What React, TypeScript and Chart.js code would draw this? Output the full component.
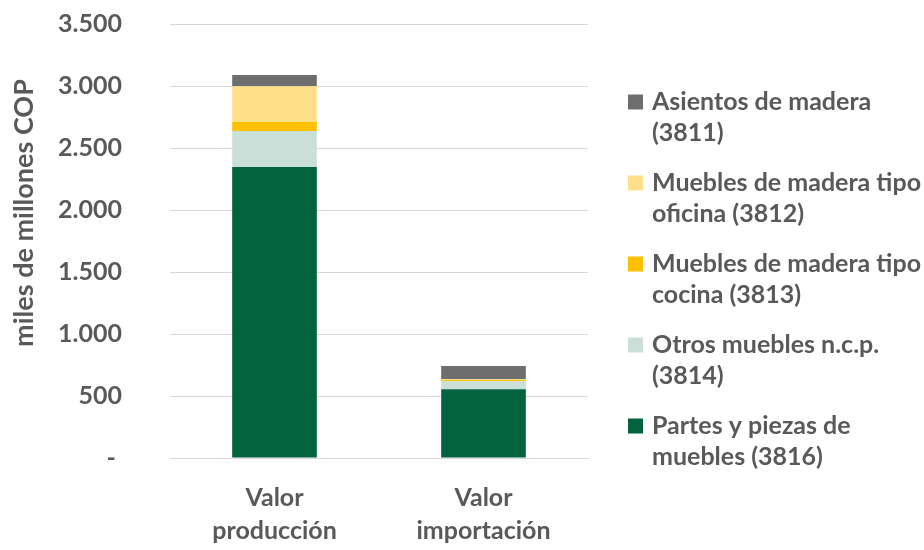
import React, { useEffect, useRef } from "react";
import { Chart, registerables } from "chart.js";

Chart.register(...registerables);

const categories: string[][] = [["Valor", "producción"], ["Valor", "importación"]];
const partes3816 = [2347, 554];
const otros3814 = [290, 65];
const cocina3813 = [73, 10];
const oficina3812 = [288, 8];
const asientos3811 = [91, 105];

const seriesLabels = [
  ["Partes y piezas de", "muebles (3816)"],
  ["Otros muebles n.c.p.", "(3814)"],
  ["Muebles de madera tipo", "cocina (3813)"],
  ["Muebles de madera tipo", "oficina (3812)"],
  ["Asientos de madera", "(3811)"],
];
const colors = ["#03633f", "#cadfd8", "#ffc000", "#ffe08a", "#6e6e6e"];
const yTicks = [0, 500, 1000, 1500, 2000, 2500, 3000, 3500];
const yTitle = "miles de millones COP";

const FONT = "Lato, 'Open Sans', sans-serif";
const TEXT = "#595959";

const legendPlugin = {
  id: "customLegend",
  afterDraw(chart: any) {
    const ctx = chart.ctx;
    ctx.save();
    ctx.fillStyle = TEXT;
    ctx.font = `bold 27px ${FONT}`;
    ctx.translate(24, 213);
    ctx.rotate(-Math.PI / 2);
    ctx.textAlign = "center";
    ctx.textBaseline = "middle";
    ctx.fillText(yTitle, 0, 0);
    ctx.restore();

    ctx.save();
    ctx.font = `bold 25px ${FONT}`;
    ctx.textBaseline = "middle";
    ctx.textAlign = "left";
    const ds = chart.data.datasets;
    const n = ds.length;
    for (let k = 0; k < n; k++) {
      const i = n - 1 - k;
      const y = 102 + k * 81;
      ctx.fillStyle = ds[i].backgroundColor;
      ctx.fillRect(628, y - 7.5, 15, 15);
      ctx.fillStyle = TEXT;
      const lines: string[] = ds[i].label2;
      lines.forEach((t, j) => ctx.fillText(t, 652, y + j * 31));
    }
    ctx.restore();
  },
};

export default function App() {
  const ref = useRef<HTMLCanvasElement>(null);
  useEffect(() => {
    const names = [partes3816, otros3814, cocina3813, oficina3812, asientos3811];
    const chart = new Chart(ref.current!, {
      type: "bar",
      data: {
        labels: categories as any,
        datasets: names.map((d, i) => ({
          label: seriesLabels[i].join(" "),
          label2: seriesLabels[i],
          data: d,
          backgroundColor: colors[i],
          borderWidth: 0,
          categoryPercentage: 1,
          barPercentage: 0.405,
        })) as any,
      },
      options: {
        responsive: false,
        animation: false,
        devicePixelRatio: 1,
        layout: { padding: { top: 24, right: 336, left: 0, bottom: 0 } },
        plugins: { legend: { display: false }, tooltip: { enabled: false } },
        scales: {
          x: {
            stacked: true,
            grid: { display: false, drawTicks: false },
            border: { display: true, color: "#d9d9d9", width: 1 },
            ticks: {
              color: TEXT,
              font: { family: FONT, size: 25, weight: "bold", lineHeight: 1.34 },
              padding: 23,
              maxRotation: 0,
              autoSkip: false,
            },
            afterFit: (s: any) => { s.height = 92; },
          },
          y: {
            stacked: true,
            min: 0,
            max: 3500,
            afterBuildTicks: (s: any) => { s.ticks = yTicks.map((v) => ({ value: v })); },
            grid: { color: "#d9d9d9", drawTicks: true, tickLength: 45, tickColor: "rgba(0,0,0,0)" },
            border: { display: false },
            ticks: {
              color: TEXT,
              font: { family: FONT, size: 25, weight: "bold" },
              padding: 3,
              callback: (v: any) => (Number(v) === 0 ? "- " : Number(v).toLocaleString("de-DE")),
            },
            afterFit: (s: any) => { s.width = 170; },
          },
        },
      },
      plugins: [legendPlugin],
    });
    return () => chart.destroy();
  }, []);
  return (
    <div style={{ position: "fixed", left: 0, top: 0, width: 924, height: 550, background: "#fff" }}>
      <canvas ref={ref} width={924} height={550} />
    </div>
  );
}
